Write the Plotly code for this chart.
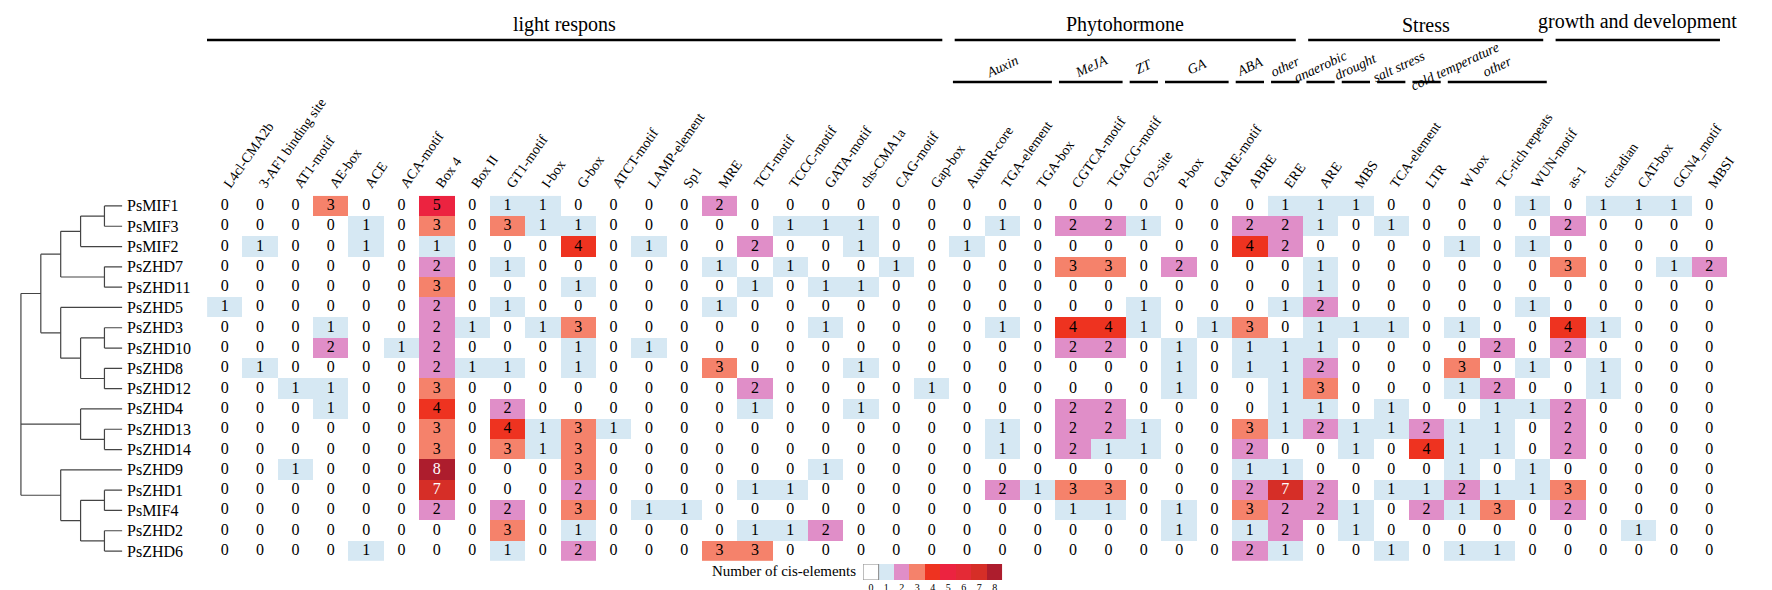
import plotly.graph_objects as go

W, H = 1772, 590

genes = ["PsMIF1", "PsMIF3", "PsMIF2", "PsZHD7", "PsZHD11", "PsZHD5", "PsZHD3",
         "PsZHD10", "PsZHD8", "PsZHD12", "PsZHD4", "PsZHD13", "PsZHD14", "PsZHD9",
         "PsZHD1", "PsMIF4", "PsZHD2", "PsZHD6"]

elements = ["L4cl-CMA2b", "3-AF1 binding site", "AT1-motif", "AE-box", "ACE", "ACA-motif",
            "Box 4", "Box II", "GT1-motif", "I-box", "G-box", "ATCT-motif", "LAMP-element",
            "Sp1", "MRE", "TCT-motif", "TCCC-motif", "GATA-motif", "chs-CMA1a", "CAG-motif",
            "Gap-box", "AuxRR-core", "TGA-element", "TGA-box", "CGTCA-motif", "TGACG-motif",
            "O2-site", "P-box", "GARE-motif", "ABRE", "ERE", "ARE", "MBS", "TCA-element",
            "LTR", "W box", "TC-rich repeats", "WUN-motif", "as-1", "circadian", "CAT-box",
            "GCN4_motif", "MBSI"]

counts = [
    [0,0,0,3,0,0,5,0,1,1, 0,0,0,0,2,0,0,0,0,0, 0,0,0,0,0,0,0,0,0, 0,1,1,1,0,0,0,0,1,0, 1,1,1,0],
    [0,0,0,0,1,0,3,0,3,1, 1,0,0,0,0,0,1,1,1,0, 0,0,1,0,2,2,1,0,0, 2,2,1,0,1,0,0,0,0,2, 0,0,0,0],
    [0,1,0,0,1,0,1,0,0,0, 4,0,1,0,0,2,0,0,1,0, 0,1,0,0,0,0,0,0,0, 4,2,0,0,0,0,1,0,1,0, 0,0,0,0],
    [0,0,0,0,0,0,2,0,1,0, 0,0,0,0,1,0,1,0,0,1, 0,0,0,0,3,3,0,2,0, 0,0,1,0,0,0,0,0,0,3, 0,0,1,2],
    [0,0,0,0,0,0,3,0,0,0, 1,0,0,0,0,1,0,1,1,0, 0,0,0,0,0,0,0,0,0, 0,0,1,0,0,0,0,0,0,0, 0,0,0,0],
    [1,0,0,0,0,0,2,0,1,0, 0,0,0,0,1,0,0,0,0,0, 0,0,0,0,0,0,1,0,0, 0,1,2,0,0,0,0,0,1,0, 0,0,0,0],
    [0,0,0,1,0,0,2,1,0,1, 3,0,0,0,0,0,0,1,0,0, 0,0,1,0,4,4,1,0,1, 3,0,1,1,1,0,1,0,0,4, 1,0,0,0],
    [0,0,0,2,0,1,2,0,0,0, 1,0,1,0,0,0,0,0,0,0, 0,0,0,0,2,2,0,1,0, 1,1,1,0,0,0,0,2,0,2, 0,0,0,0],
    [0,1,0,0,0,0,2,1,1,0, 1,0,0,0,3,0,0,0,1,0, 0,0,0,0,0,0,0,1,0, 1,1,2,0,0,0,3,0,1,0, 1,0,0,0],
    [0,0,1,1,0,0,3,0,0,0, 0,0,0,0,0,2,0,0,0,0, 1,0,0,0,0,0,0,1,0, 0,1,3,0,0,0,1,2,0,0, 1,0,0,0],
    [0,0,0,1,0,0,4,0,2,0, 0,0,0,0,0,1,0,0,1,0, 0,0,0,0,2,2,0,0,0, 0,1,1,0,1,0,0,1,1,2, 0,0,0,0],
    [0,0,0,0,0,0,3,0,4,1, 3,1,0,0,0,0,0,0,0,0, 0,0,1,0,2,2,1,0,0, 3,1,2,1,1,2,1,1,0,2, 0,0,0,0],
    [0,0,0,0,0,0,3,0,3,1, 3,0,0,0,0,0,0,0,0,0, 0,0,1,0,2,1,1,0,0, 2,0,0,1,0,4,1,1,0,2, 0,0,0,0],
    [0,0,1,0,0,0,8,0,0,0, 3,0,0,0,0,0,0,1,0,0, 0,0,0,0,0,0,0,0,0, 1,1,0,0,0,0,1,0,1,0, 0,0,0,0],
    [0,0,0,0,0,0,7,0,0,0, 2,0,0,0,0,1,1,0,0,0, 0,0,2,1,3,3,0,0,0, 2,7,2,0,1,1,2,1,1,3, 0,0,0,0],
    [0,0,0,0,0,0,2,0,2,0, 3,0,1,1,0,0,0,0,0,0, 0,0,0,0,1,1,0,1,0, 3,2,2,1,0,2,1,3,0,2, 0,0,0,0],
    [0,0,0,0,0,0,0,0,3,0, 1,0,0,0,0,1,1,2,0,0, 0,0,0,0,0,0,0,1,0, 1,2,0,1,0,0,0,0,0,0, 0,1,0,0],
    [0,0,0,0,1,0,0,0,1,0, 2,0,0,0,3,3,0,0,0,0, 0,0,0,0,0,0,0,0,0, 2,1,0,0,1,0,1,1,0,0, 0,0,0,0],
]

groups = ["light respons", "Phytohormone", "Stress", "growth and development"]
group_cols = [(0, 20), (21, 30), (31, 37), (38, 42)]

subgroups = ["Auxin", "MeJA", "ZT", "GA", "ABA", "other", "anaerobic", "drought",
             "salt stress", "cold temperature", "other"]
subgroup_cols = [(21, 23), (24, 25), (26, 26), (27, 28), (29, 29), (30, 30),
                 (31, 31), (32, 32), (33, 33), (34, 34), (35, 37)]

legend_vals = [0, 1, 2, 3, 4, 5, 6, 7, 8]

# clustering tree: (child, child, ..., height)
tree = (((((("PsMIF1", "PsMIF3", 0.18), "PsMIF2", 0.42), ("PsZHD7", "PsZHD11", 0.18), 0.62),
          ("PsZHD5", (("PsZHD3", "PsZHD10", 0.18), ("PsZHD8", "PsZHD12", 0.18), 0.42), 0.62), 0.82)),
        ("PsZHD4", ("PsZHD13", "PsZHD14", 0.18), 0.42),
        ("PsZHD9", (("PsZHD1", "PsMIF4", 0.18), ("PsZHD2", "PsZHD6", 0.18), 0.42), 0.62),
        1.02)

cell_colors = ["#ffffff", "#d6e8f3", "#e08ec8", "#f5826b", "#ee3320",
               "#ec2340", "#e42a36", "#d62e27", "#ad1d2d"]
FONT = "Liberation Serif"

n = len(cell_colors)
colorscale = []
for i, c in enumerate(cell_colors):
    colorscale.append([i / n, c])
    colorscale.append([(i + 1) / n, c])

fig = go.Figure()

# heatmap
fig.add_trace(go.Heatmap(
    z=counts, x=list(range(len(elements))), y=list(range(len(genes))),
    colorscale=colorscale, zmin=-0.5, zmax=8.5, showscale=False,
    xaxis="x", yaxis="y", hoverinfo="skip"))

# numbers in cells
tx, ty, tt, tc = [], [], [], []
for r, row in enumerate(counts):
    for c, v in enumerate(row):
        tx.append(c); ty.append(r); tt.append(str(v))
        tc.append("white" if v >= 7 else "black")
fig.add_trace(go.Scatter(
    x=tx, y=ty, text=tt, mode="text", textfont=dict(family=FONT, size=16, color=tc),
    xaxis="x", yaxis="y", hoverinfo="skip", showlegend=False))

# dendrogram
dx, dy = [], []
def walk(node):
    if isinstance(node, str):
        return genes.index(node), 0.0
    if len(node) == 1:
        return walk(node[0])
    *kids, h = node
    pts = [walk(k) for k in kids]
    for y, ch in pts:
        dx.extend([ch, h, None]); dy.extend([y, y, None])
    yy = [p[0] for p in pts]
    dx.extend([h, h, None]); dy.extend([min(yy), max(yy), None])
    return sum(yy) / len(yy), h
walk(tree)
fig.add_trace(go.Scatter(x=dx, y=dy, mode="lines", line=dict(color="#444444", width=1.2),
                         xaxis="x3", yaxis="y", hoverinfo="skip", showlegend=False))

# legend colour boxes
fig.add_trace(go.Heatmap(
    z=[legend_vals], x=legend_vals, y=[0], colorscale=colorscale, zmin=-0.5, zmax=8.5,
    showscale=False, xaxis="x2", yaxis="y2", hoverinfo="skip"))

def py(px):
    return 1 - px / H

x0p, x1p = 200.2 / W, 1728.8 / W
annotations = []
shapes = []

for g in genes:
    annotations.append(dict(text=g, x=118 / W, xref="paper", xanchor="left",
                            y=genes.index(g), yref="y", yanchor="middle", showarrow=False,
                            font=dict(family=FONT, size=16, color="black")))

for name, (a, b) in zip(groups, group_cols):
    left = a - 1.05 if a == 0 else a - 0.35
    shapes.append(dict(type="line", xref="x", yref="paper", x0=left, x1=b + 0.3,
                       y0=py(32), y1=py(32), line=dict(color="black", width=2.5)))
    ty_px = 14 if name.startswith("growth") else 17
    annotations.append(dict(text=name, x=(left + b + 0.3) / 2, xref="x", y=py(ty_px),
                            yref="paper", yanchor="middle", showarrow=False,
                            font=dict(family=FONT, size=20, color="black")))

for name, (a, b) in zip(subgroups, subgroup_cols):
    shapes.append(dict(type="line", xref="x", yref="paper", x0=a - 0.4, x1=b + 0.4,
                       y0=py(74), y1=py(74), line=dict(color="black", width=2.5)))
    shift = 28 if name == "cold temperature" else (8 if name == "salt stress" else 0)
    annotations.append(dict(text="<i>" + name + "</i>", x=(a + b) / 2, xref="x",
                            xshift=shift, y=py(58), yref="paper", yanchor="middle",
                            showarrow=False, textangle=-25,
                            font=dict(family=FONT, size=14, color="black")))

annotations.append(dict(text="Number of cis-elements", x=855 / W, xref="paper",
                        xanchor="right", y=py(563), yref="paper", yanchor="middle",
                        showarrow=False, font=dict(family=FONT, size=15, color="black")))
shapes.append(dict(type="rect", xref="x2", yref="y2", x0=legend_vals[0] - 0.5,
                   x1=legend_vals[0] + 0.5, y0=-0.5, y1=0.5,
                   line=dict(color="#888888", width=1)))

fig.update_layout(
    width=W, height=H, margin=dict(l=0, r=0, t=0, b=0),
    paper_bgcolor="white", plot_bgcolor="white",
    showlegend=False, annotations=annotations, shapes=shapes,
    xaxis=dict(domain=[x0p, x1p], range=[-0.5, len(elements) - 0.5], side="top",
               tickvals=list(range(len(elements))), ticktext=elements, tickangle=-55,
               tickfont=dict(family=FONT, size=14, color="black"), showgrid=False,
               zeroline=False, showline=False, ticks="", anchor="y"),
    yaxis=dict(domain=[py(553.2), py(187.8)], range=[len(genes) - 0.5, -0.5],
               showticklabels=False, showgrid=False, zeroline=False, ticks=""),
    xaxis3=dict(domain=[0, 115 / W], range=[1.15, 0], anchor="y", visible=False),
    xaxis2=dict(domain=[860 / W, 1000 / W], range=[-0.5, 8.5], anchor="y2",
                tickvals=legend_vals, ticks="", showgrid=False, zeroline=False,
                ticklabelstandoff=0,
                tickfont=dict(family=FONT, size=10, color="black")),
    yaxis2=dict(domain=[py(572), py(556)], range=[-0.5, 0.5], anchor="x2",
                visible=False),
)

fig.write_html("out.html")
